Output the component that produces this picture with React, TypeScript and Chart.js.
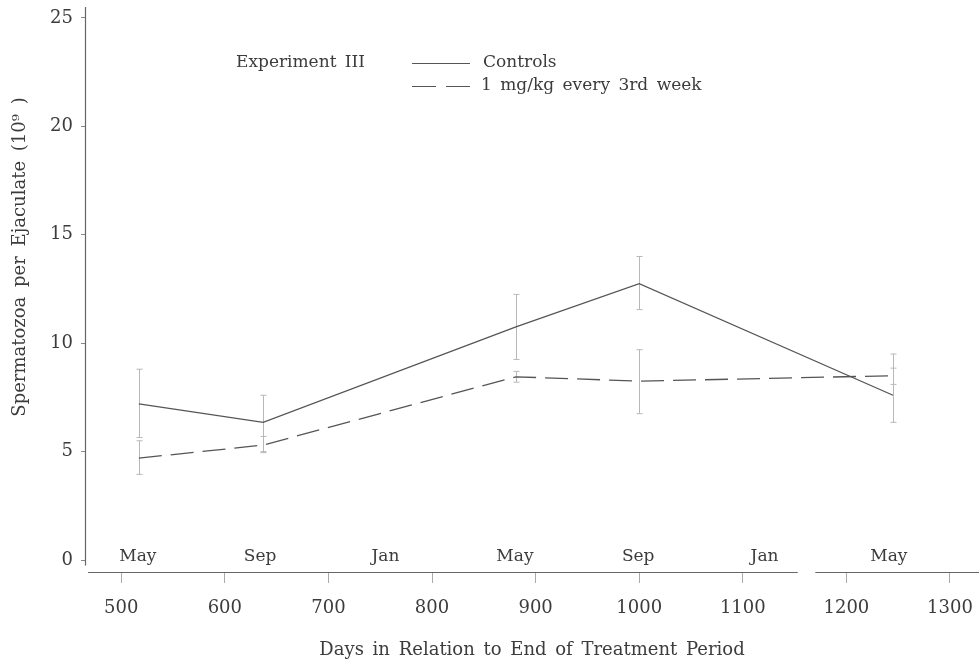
import React, { useEffect, useRef } from "react";
import { Chart, registerables } from "chart.js";

Chart.register(...registerables);

// ---- data ----
const days = [517, 637, 881, 1000, 1245];
const controls = [7.2, 6.35, 10.75, 12.75, 7.6];
const controlsHi = [8.8, 7.6, 12.25, 14.0, 9.5];
const controlsLo = [5.65, 5.0, 9.25, 11.55, 6.35];
const treated = [4.7, 5.3, 8.45, 8.25, 8.5];
const treatedHi = [5.5, 5.7, 8.7, 9.7, 8.85];
const treatedLo = [3.95, 4.95, 8.2, 6.75, 8.1];

const xTickValues = [500, 600, 700, 800, 900, 1000, 1100, 1200, 1300];
const yTickValues = [0, 5, 10, 15, 20, 25];

const monthLabels = ["May", "Sep", "Jan", "May", "Sep", "Jan", "May"];
const monthDays = [516, 634, 755, 880, 999, 1121, 1241];

const seriesNames = ["Controls", "1 mg/kg every 3rd week"];
const experimentLabel = "Experiment III";
const yTitle = "Spermatozoa per Ejaculate (10\u2079 )";
const xTitle = "Days in Relation to End of Treatment Period";

const FONT = "'DejaVu Serif', serif";
const TEXT = "#3c3c3c";
const LINE = "#555555";
const ERR = "#b8b8b8";

const overlayPlugin = {
  id: "overlay",
  beforeDatasetsDraw(chart: any) {
    const ctx = chart.ctx;
    const xs = chart.scales.x;
    const ys = chart.scales.y;
    ctx.save();
    ctx.strokeStyle = ERR;
    ctx.lineWidth = 1;
    const drawErr = (hi: number[], lo: number[]) => {
      days.forEach((d, i) => {
        const x = Math.round(xs.getPixelForValue(d)) + 0.5;
        const y1 = ys.getPixelForValue(hi[i]);
        const y2 = ys.getPixelForValue(lo[i]);
        ctx.beginPath();
        ctx.moveTo(x, y1);
        ctx.lineTo(x, y2);
        ctx.moveTo(x - 3, y1);
        ctx.lineTo(x + 3, y1);
        ctx.moveTo(x - 3, y2);
        ctx.lineTo(x + 3, y2);
        ctx.stroke();
      });
    };
    drawErr(controlsHi, controlsLo);
    drawErr(treatedHi, treatedLo);
    ctx.restore();
  },
  afterDraw(chart: any) {
    const ctx = chart.ctx;
    const xs = chart.scales.x;
    const ys = chart.scales.y;
    const area = chart.chartArea;
    ctx.save();
    // axes lines
    ctx.strokeStyle = "#666";
    ctx.lineWidth = 1.2;
    ctx.beginPath();
    ctx.moveTo(area.left + 0.5, area.top);
    ctx.lineTo(area.left + 0.5, ys.getPixelForValue(-0.25));
    ctx.stroke();
    ctx.beginPath();
    ctx.moveTo(xs.getPixelForValue(468), area.bottom + 0.5);
    ctx.lineTo(xs.getPixelForValue(1153), area.bottom + 0.5);
    ctx.moveTo(xs.getPixelForValue(1170), area.bottom + 0.5);
    ctx.lineTo(area.right, area.bottom + 0.5);
    ctx.stroke();

    ctx.fillStyle = TEXT;
    ctx.font = `17px ${FONT}`;
    try { (ctx as any).wordSpacing = "3px"; } catch (e) {}
    // month labels
    ctx.textAlign = "center";
    ctx.textBaseline = "middle";
    monthLabels.forEach((m, i) => {
      ctx.fillText(m, xs.getPixelForValue(monthDays[i]), ys.getPixelForValue(0.15));
    });

    // legend
    ctx.textAlign = "left";
    ctx.fillText(experimentLabel, 236, 63);
    ctx.fillText(seriesNames[0], 483, 63);
    ctx.fillText(seriesNames[1], 481, 86);
    ctx.strokeStyle = LINE;
    ctx.lineWidth = 1.2;
    ctx.beginPath();
    ctx.moveTo(412, 63.5);
    ctx.lineTo(470, 63.5);
    ctx.stroke();
    ctx.setLineDash([24, 10]);
    ctx.beginPath();
    ctx.moveTo(412, 86.5);
    ctx.lineTo(470, 86.5);
    ctx.stroke();
    ctx.setLineDash([]);

    // x title
    ctx.font = `18px ${FONT}`;
    try { (ctx as any).wordSpacing = "3px"; } catch (e) {}
    ctx.textAlign = "center";
    ctx.fillText(xTitle, (area.left + area.right) / 2, 650);

    // y title
    ctx.font = `18px ${FONT}`;
    try { (ctx as any).wordSpacing = "4px"; } catch (e) {}
    ctx.translate(20, 257);
    ctx.rotate(-Math.PI / 2);
    ctx.fillText(yTitle, 0, 0);
    ctx.restore();
  },
};

export default function App() {
  const ref = useRef<HTMLCanvasElement | null>(null);
  useEffect(() => {
    if (!ref.current) return;
    const chart = new Chart(ref.current, {
      type: "line",
      data: {
        datasets: [
          {
            label: seriesNames[0],
            data: days.map((d, i) => ({ x: d, y: controls[i] })),
            borderColor: LINE,
            borderWidth: 1.3,
            pointRadius: 0,
            tension: 0,
            fill: false,
          },
          {
            label: seriesNames[1],
            data: days.map((d, i) => ({ x: d, y: treated[i] })),
            borderColor: LINE,
            borderWidth: 1.3,
            borderDash: [23, 9],
            pointRadius: 0,
            tension: 0,
            fill: false,
          },
        ],
      },
      options: {
        animation: false,
        responsive: false,
        devicePixelRatio: 1,
        layout: { padding: { top: 7, left: 0, right: 0, bottom: 0 } },
        plugins: { legend: { display: false }, tooltip: { enabled: false } },
        scales: {
          x: {
            type: "linear",
            min: 465,
            max: 1328,
            afterBuildTicks: (s: any) => {
              s.ticks = xTickValues.map((v) => ({ value: v }));
            },
            afterFit: (s: any) => {
              s.height = 91;
              s.paddingLeft = 0;
              s.paddingRight = 0;
            },
            border: { display: false },
            grid: { drawOnChartArea: false, drawTicks: true, tickLength: 11, color: "#aaa" },
            ticks: {
              color: TEXT,
              font: { family: FONT, size: 18 },
              padding: 15,
              maxRotation: 0,
              autoSkip: false,
              callback: (v: any) => String(v),
            },
            title: { display: false },
          },
          y: {
            min: -0.553,
            max: 25.507,
            afterBuildTicks: (s: any) => {
              s.ticks = yTickValues.map((v) => ({ value: v }));
            },
            afterFit: (s: any) => {
              s.width = 85;
              s.paddingTop = 0;
              s.paddingBottom = 0;
            },
            border: { display: false },
            grid: { drawOnChartArea: false, drawTicks: true, tickLength: 4, color: "#888" },
            ticks: {
              color: TEXT,
              font: { family: FONT, size: 18 },
              padding: 8,
              callback: (v: any) => String(v),
            },
          },
        },
      },
      plugins: [overlayPlugin],
    } as any);
    return () => chart.destroy();
  }, []);
  return (
    <div style={{ position: "fixed", left: 0, top: 0, width: 979, height: 663, background: "#fff" }}>
      <canvas ref={ref} width={979} height={663} style={{ display: "block", width: 979, height: 663 }} />
    </div>
  );
}
